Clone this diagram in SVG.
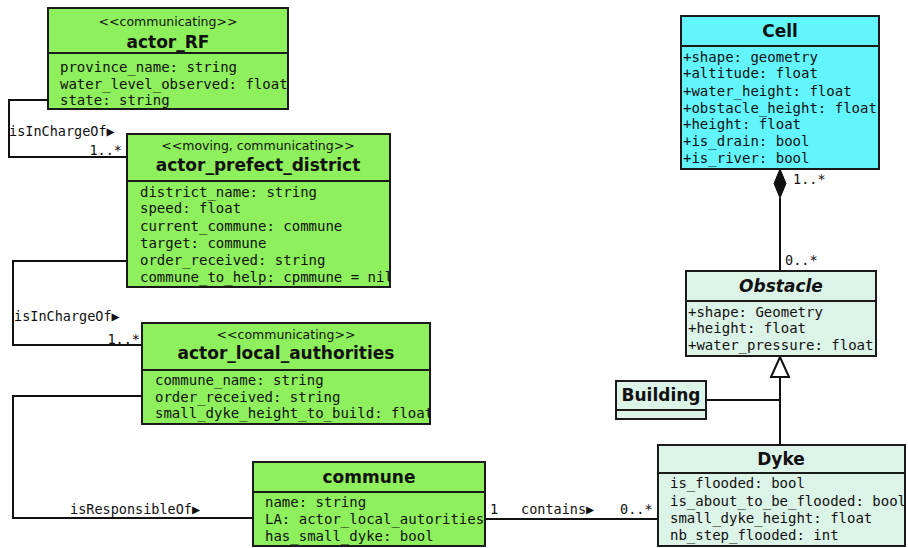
<svg xmlns="http://www.w3.org/2000/svg" width="908" height="548" viewBox="0 0 908 548">
<style>
.box{stroke:#1a1a1a;stroke-width:2}
.g{fill:#8ef05c}.c{fill:#62f5fd}.m{fill:#dcf3e7}
.div{stroke:#1a1a1a;stroke-width:2}
.st{font-family:"DejaVu Sans",sans-serif;font-size:12.5px;fill:#111;text-anchor:middle}
.nm{font-family:"DejaVu Sans",sans-serif;font-size:17px;font-weight:bold;fill:#111;text-anchor:middle}
.at{font-family:"DejaVu Sans Mono",monospace;font-size:14px;fill:#111}
.lb{font-family:"DejaVu Sans Mono",monospace;font-size:13.5px;fill:#111}
.tr{font-size:13.5px}
.ln{fill:none;stroke:#111;stroke-width:2}
</style>
<defs>
<clipPath id="cRF"><rect x="48" y="8" width="240" height="101"/></clipPath>
<clipPath id="cPD"><rect x="127" y="134" width="263" height="153"/></clipPath>
<clipPath id="cLA"><rect x="142" y="323" width="288" height="101"/></clipPath>
<clipPath id="cCO"><rect x="253" y="462" width="232" height="84"/></clipPath>
<clipPath id="cDY"><rect x="658" y="445" width="247" height="101"/></clipPath>
<clipPath id="cCE"><rect x="681" y="16" width="198" height="153"/></clipPath>
<clipPath id="cOB"><rect x="686" y="271" width="190" height="85"/></clipPath>
</defs>
<rect width="908" height="548" fill="#fff"/>
<g id="connectors">
<path class="ln" d="M48,100 H9 V157 H127"/>
<text class="lb" x="9" y="136">isInChargeOf<tspan class="tr">▶</tspan></text>
<text class="lb" x="122" y="155" text-anchor="end">1..*</text>
<path class="ln" d="M127,261 H13 V345 H142"/>
<text class="lb" x="14" y="321">isInChargeOf<tspan class="tr">▶</tspan></text>
<text class="lb" x="140" y="344" text-anchor="end">1..*</text>
<path class="ln" d="M142,396 H13 V518 H253"/>
<text class="lb" x="70" y="514">isResponsibleOf<tspan class="tr">▶</tspan></text>
<path class="ln" d="M485,519 H658"/>
<text class="lb" x="490" y="514">1</text>
<text class="lb" x="521" y="514">contains<tspan class="tr">▶</tspan></text>
<text class="lb" x="620" y="514">0..*</text>
<path class="ln" d="M780,198 V271"/>
<path d="M780,169 L786,183.5 L780,198 L774,183.5 Z" fill="#111" stroke="#111" stroke-width="1"/>
<text class="lb" x="793" y="184">1..*</text>
<text class="lb" x="785" y="265">0..*</text>
<path class="ln" d="M780,377 V445 M706,400 H780"/>
<path d="M780,357 L789,377 L771,377 Z" fill="#fff" stroke="#111" stroke-width="2"/>
</g>
<g id="actor_RF">
<rect class="box g" x="48" y="8" width="240" height="101"/>
<line class="div" x1="48" y1="53" x2="288" y2="53"/>
<text class="st" x="168" y="26">&lt;&lt;communicating&gt;&gt;</text>
<text class="nm" x="168" y="48">actor_RF</text>
<g clip-path="url(#cRF)">
<text class="at" x="60" y="72">province_name: string</text>
<text class="at" x="60" y="89">water_level_observed: float</text>
<text class="at" x="60" y="105">state: string</text>
</g>
</g>
<g id="actor_prefect_district">
<rect class="box g" x="127" y="134" width="263" height="153"/>
<line class="div" x1="127" y1="181" x2="390" y2="181"/>
<text class="st" x="258" y="150">&lt;&lt;moving, communicating&gt;&gt;</text>
<text class="nm" x="258" y="171">actor_prefect_district</text>
<g clip-path="url(#cPD)">
<text class="at" x="140" y="197">district_name: string</text>
<text class="at" x="140" y="213">speed: float</text>
<text class="at" x="140" y="231">current_commune: commune</text>
<text class="at" x="140" y="248">target: commune</text>
<text class="at" x="140" y="265">order_received: string</text>
<text class="at" x="140" y="282">commune_to_help: cpmmune = nil</text>
</g>
</g>
<g id="actor_local_authorities">
<rect class="box g" x="142" y="323" width="288" height="101"/>
<line class="div" x1="142" y1="370" x2="430" y2="370"/>
<text class="st" x="286" y="339">&lt;&lt;communicating&gt;&gt;</text>
<text class="nm" x="286" y="359">actor_local_authorities</text>
<g clip-path="url(#cLA)">
<text class="at" x="155" y="385">commune_name: string</text>
<text class="at" x="155" y="402">order_received: string</text>
<text class="at" x="155" y="418">small_dyke_height_to_build: float</text>
</g>
</g>
<g id="commune">
<rect class="box g" x="253" y="462" width="232" height="84"/>
<line class="div" x1="253" y1="492" x2="485" y2="492"/>
<text class="nm" x="369" y="483">commune</text>
<g clip-path="url(#cCO)">
<text class="at" x="265" y="507">name: string</text>
<text class="at" x="265" y="524">LA: actor_local_autorities</text>
<text class="at" x="265" y="541">has_small_dyke: bool</text>
</g>
</g>
<g id="Cell">
<rect class="box c" x="681" y="16" width="198" height="153"/>
<line class="div" x1="681" y1="46" x2="879" y2="46"/>
<text class="nm" x="780" y="37">Cell</text>
<g clip-path="url(#cCE)">
<text class="at" x="683" y="62">+shape: geometry</text>
<text class="at" x="683" y="78">+altitude: float</text>
<text class="at" x="683" y="96">+water_height: float</text>
<text class="at" x="683" y="113">+obstacle_height: float</text>
<text class="at" x="683" y="129">+height: float</text>
<text class="at" x="683" y="146">+is_drain: bool</text>
<text class="at" x="683" y="163">+is_river: bool</text>
</g>
</g>
<g id="Obstacle">
<rect class="box m" x="686" y="271" width="190" height="85"/>
<line class="div" x1="686" y1="301" x2="876" y2="301"/>
<text class="nm" x="781" y="292" font-style="italic">Obstacle</text>
<g clip-path="url(#cOB)">
<text class="at" x="688" y="317">+shape: Geometry</text>
<text class="at" x="688" y="333">+height: float</text>
<text class="at" x="688" y="350">+water_pressure: float</text>
</g>
</g>
<g id="Building">
<rect class="box m" x="616" y="381" width="90" height="38"/>
<line class="div" x1="616" y1="410" x2="706" y2="410"/>
<text class="nm" x="661" y="401">Building</text>
</g>
<g id="Dyke">
<rect class="box m" x="658" y="445" width="247" height="101"/>
<line class="div" x1="658" y1="473" x2="905" y2="473"/>
<text class="nm" x="781" y="465">Dyke</text>
<g clip-path="url(#cDY)">
<text class="at" x="670" y="488">is_flooded: bool</text>
<text class="at" x="670" y="506">is_about_to_be_flooded: bool</text>
<text class="at" x="670" y="523">small_dyke_height: float</text>
<text class="at" x="670" y="540">nb_step_flooded: int</text>
</g>
</g>
</svg>
